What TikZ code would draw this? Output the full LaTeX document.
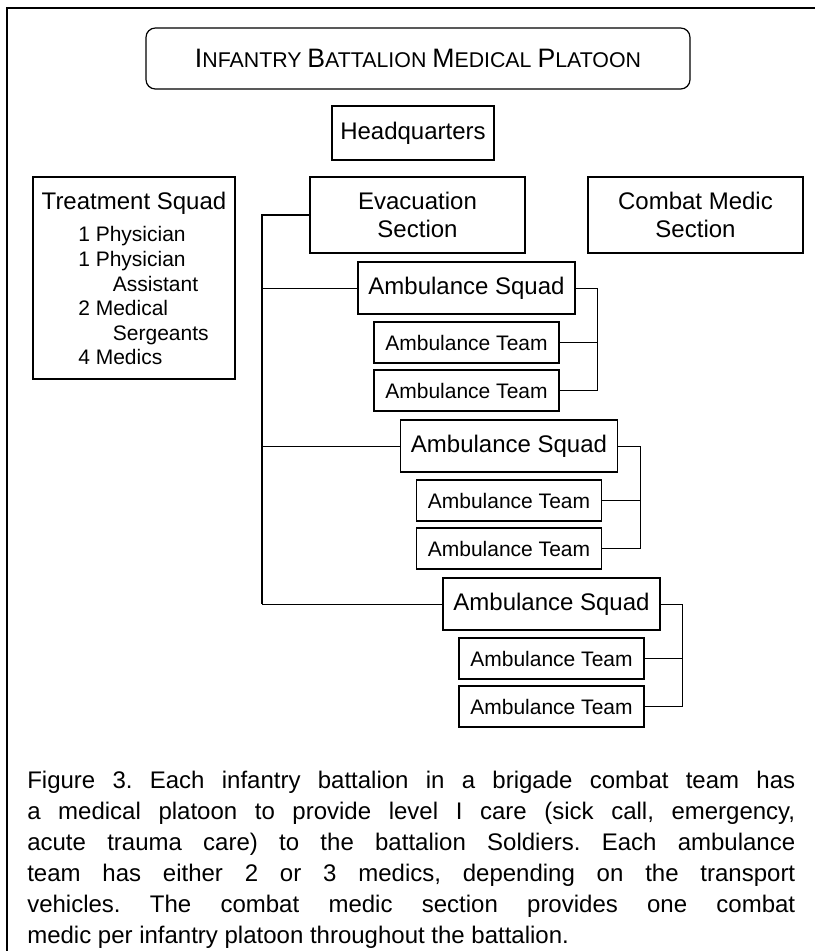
\documentclass[tikz,border=0pt]{standalone}
\usepackage{fontspec}
\setmainfont{Liberation Sans}
\usepackage{tikz}

% versalitas hechas a mano para el título
\newcommand{\scword}[2]{{\fontsize{20}{24}\selectfont #1}{\fontsize{16}{20}\selectfont #2}}

\begin{document}
\frenchspacing
\begin{tikzpicture}[x=0.75pt,y=-0.75pt,
		box/.style={draw,line width=0.8pt,inner sep=0pt,align=center,font=\fontsize{18}{20.5}\selectfont},
		squadbox/.style={box,minimum width=162.75pt,minimum height=39pt},
		teambox/.style={box,minimum width=138.75pt,minimum height=30.75pt,font=\fontsize{15.75}{18}\selectfont},
		link/.style={line width=0.7pt},
		trunk/.style={line width=1.3pt}]
		\useasboundingbox (0,0) rectangle (815,951);
		% marco de la página
		\draw[line width=1.6pt] (7,951) -- (7,8) -- (815,8);
		
		% título
		\node[draw,rounded corners=7pt,line width=0.9pt,minimum width=408pt,minimum height=45.75pt,
			inner sep=0pt,font=\fontsize{16}{20}\selectfont] (titulo) at (418,58.5)
			{\scword{I}{NFANTRY} \scword{B}{ATTALION} \scword{M}{EDICAL} \scword{P}{LATOON}};
		
		\node[box,minimum width=121.5pt,minimum height=40.5pt] (hq) at (413,133) {Headquarters};
		\node[box,minimum width=161.25pt,minimum height=57pt] (evac) at (417.5,215) {Evacuation\\Section};
		\node[box,minimum width=161.25pt,minimum height=57pt] (combat) at (695.5,215) {Combat Medic\\Section};
		
		% escuadra de tratamiento
		\node[box,minimum width=151.5pt,minimum height=151.5pt] (treat) at (134,278) {};
		\node[anchor=base,inner sep=0pt,font=\fontsize{18}{20.5}\selectfont] (treattitle) at (134,209) {Treatment Squad};
		\node[anchor=north west,align=left,inner sep=0pt,font=\fontsize{15.75}{18.4}\selectfont] (treatlist) at (78,226.5)
			{1 Physician\\1 Physician\\\hspace*{26pt}Assistant\\2 Medical\\\hspace*{26pt}Sergeants\\4 Medics};
		
		% tronco de la sección de evacuación
		\coordinate (trunktop) at (262,215);
		
		% escuadras de ambulancias con sus equipos
		\foreach \i in {1,2,3} {
			\pgfmathsetmacro{\sx}{466.5+42.5*(\i-1)}
			\pgfmathsetmacro{\sy}{288+158*(\i-1)}
			
			\node[squadbox] (sq\i) at (\sx,\sy) {Ambulance Squad};
			\node[teambox] (ta\i) at (\sx,\sy+54.5) {Ambulance Team};
			\node[teambox] (tb\i) at (\sx,\sy+102.5) {Ambulance Team};
			
			\draw[link] (sq\i.east) -- ++(22,0) coordinate (br\i) |- (tb\i.east);
			\draw[link] (ta\i.east) -- (ta\i.east -| br\i);
			\draw[link] (trunktop) |- (sq\i.west);
		}
		\draw[trunk] (evac.west) -- (trunktop) -- (trunktop |- sq3.west);
		
		% pie de figura
		\node[anchor=north west,inner sep=0pt,text width=576pt,align=justify,
			font=\fontsize{18}{23.2}\selectfont] (caption) at (27,771)
			{Figure 3. Each infantry battalion in a brigade combat team has\linebreak
			a medical platoon to provide level I care (sick call, emergency,\linebreak
			acute trauma care) to the battalion Soldiers. Each ambulance\linebreak
			team has either 2 or 3 medics, depending on the transport\linebreak
			vehicles. The combat medic section provides one combat\linebreak
			medic per infantry platoon throughout the battalion.};
	\end{tikzpicture}
\end{document}
